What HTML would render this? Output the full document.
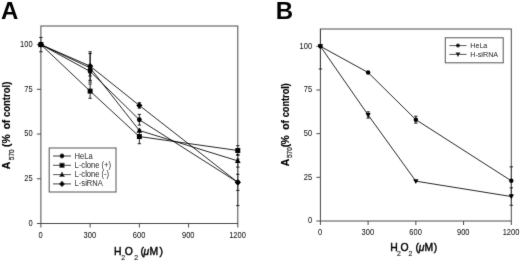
<!DOCTYPE html>
<html lang="en"><head><meta charset="utf-8"><title>Figure</title>
<style>html,body{margin:0;padding:0;background:#fff}svg{display:block}</style>
</head><body>
<svg width="520" height="261" viewBox="0 0 520 261">
<defs><filter id="soft" x="0" y="0" width="100%" height="100%" filterUnits="userSpaceOnUse"><feConvolveMatrix order="3" kernelMatrix="0.01 0.07 0.01 0.07 0.68 0.07 0.01 0.07 0.01" divisor="1" edgeMode="duplicate" preserveAlpha="false"/></filter></defs>
<rect width="520" height="261" fill="#fff"/>
<g filter="url(#soft)">
<g font-family='"Liberation Sans", Arial, sans-serif' font-weight="bold" font-size="24" fill="#000"><text x="0.9" y="19.1">A</text><text x="275.7" y="19.3">B</text></g>
<clipPath id="cpA"><rect x="36.9" y="26" width="204.9" height="197.5"/></clipPath>
<g fill="none" stroke="#4a4a4a" stroke-width="1">
<rect x="40.9" y="26" width="196.9" height="197.5"/>
<line x1="36.9" y1="223.5" x2="40.9" y2="223.5"/>
<line x1="36.9" y1="178.78" x2="40.9" y2="178.78"/>
<line x1="36.9" y1="134.05" x2="40.9" y2="134.05"/>
<line x1="36.9" y1="89.32" x2="40.9" y2="89.32"/>
<line x1="36.9" y1="44.6" x2="40.9" y2="44.6"/>
<line x1="40.9" y1="223.5" x2="40.9" y2="227.5"/>
<line x1="90.12" y1="223.5" x2="90.12" y2="227.5"/>
<line x1="139.35" y1="223.5" x2="139.35" y2="227.5"/>
<line x1="188.58" y1="223.5" x2="188.58" y2="227.5"/>
<line x1="237.8" y1="223.5" x2="237.8" y2="227.5"/>
</g>
<g font-family='"Liberation Sans", Arial, sans-serif' font-size="7.5" fill="#0a0a0a">
<text transform="translate(32.6 225.7) scale(1 1.12)" text-anchor="end">0</text>
<text transform="translate(32.6 180.97) scale(1 1.12)" text-anchor="end">25</text>
<text transform="translate(32.6 136.25) scale(1 1.12)" text-anchor="end">50</text>
<text transform="translate(32.6 91.52) scale(1 1.12)" text-anchor="end">75</text>
<text transform="translate(32.6 46.8) scale(1 1.12)" text-anchor="end">100</text>
<text transform="translate(40.6 238.3) scale(1 1.12)" text-anchor="middle">0</text>
<text transform="translate(89.83 238.3) scale(1 1.12)" text-anchor="middle">300</text>
<text transform="translate(139.05 238.3) scale(1 1.12)" text-anchor="middle">600</text>
<text transform="translate(188.28 238.3) scale(1 1.12)" text-anchor="middle">900</text>
<text transform="translate(237.5 238.3) scale(1 1.12)" text-anchor="middle">1200</text>
</g>
<g clip-path="url(#cpA)">
<g stroke="#000" stroke-width="0.85" fill="none">
<path stroke-width="0.85" stroke="#000" d="M39.2 37.44H42.6M39.2 51.76H42.6"/>
<path stroke-width="0.5" stroke="#222" d="M40.9 37.44V51.76"/>
<path stroke-width="0.85" stroke="#000" d="M90.12 66.96V75.91M88.42 66.96H91.83M88.42 75.91H91.83"/>
<path stroke-width="0.85" stroke="#000" d="M139.35 114.37V125.1M137.65 114.37H141.05M137.65 125.1H141.05"/>
<path stroke-width="0.85" stroke="#000" d="M236.1 159.1H239.5M236.1 205.61H239.5"/>
<path stroke-width="0.5" stroke="#222" d="M237.8 159.1V205.61"/>
<polyline points="40.9,44.6 90.12,71.43 139.35,119.74 237.8,182.35"/>
</g>
<g stroke="#000" stroke-width="0.85" fill="none">
<path stroke-width="0.85" stroke="#000" d="M90.12 83.96V98.27M88.42 83.96H91.83M88.42 98.27H91.83"/>
<path stroke-width="0.85" stroke="#000" d="M139.35 129.4V143.71M137.65 129.4H141.05M137.65 143.71H141.05"/>
<path stroke-width="0.85" stroke="#000" d="M236.1 145.68H239.5M236.1 155.34H239.5"/>
<path stroke-width="0.5" stroke="#222" d="M237.8 145.68V155.34"/>
<polyline points="40.9,44.6 90.12,91.11 139.35,136.55 237.8,150.51"/>
</g>
<g stroke="#000" stroke-width="0.85" fill="none">
<path stroke-width="0.85" stroke="#000" d="M90.12 53.54V82.17M88.42 53.54H91.83M88.42 82.17H91.83"/>
<path stroke-width="0.85" stroke="#000" d="M236.1 154.62H239.5M236.1 167.15H239.5"/>
<path stroke-width="0.5" stroke="#222" d="M237.8 154.62V167.15"/>
<polyline points="40.9,44.6 90.12,67.86 139.35,130.47 237.8,160.88"/>
</g>
<g stroke="#000" stroke-width="0.85" fill="none">
<path stroke-width="0.85" stroke="#000" d="M90.12 51.76V80.38M88.42 51.76H91.83M88.42 80.38H91.83"/>
<path stroke-width="0.85" stroke="#000" d="M139.35 102.74V108.11M137.65 102.74H141.05M137.65 108.11H141.05"/>
<path stroke-width="0.85" stroke="#000" d="M236.1 174.3H239.5M236.1 190.4H239.5"/>
<path stroke-width="0.5" stroke="#222" d="M237.8 174.3V190.4"/>
<polyline points="40.9,44.6 90.12,66.07 139.35,105.43 237.8,182.35"/>
</g>
<g fill="#000">
<circle cx="40.9" cy="44.6" r="2.39"/>
<circle cx="90.12" cy="71.43" r="2.39"/>
<circle cx="139.35" cy="119.74" r="2.39"/>
<circle cx="237.8" cy="182.35" r="2.39"/>
</g>
<g fill="#000">
<rect x="38.43" y="42.13" width="4.94" height="4.94"/>
<rect x="87.66" y="88.64" width="4.94" height="4.94"/>
<rect x="136.88" y="134.08" width="4.94" height="4.94"/>
<rect x="235.33" y="148.04" width="4.94" height="4.94"/>
</g>
<g fill="#000">
<polygon points="40.9,41.61 43.76,46.81 38.04,46.81"/>
<polygon points="90.12,64.87 92.98,70.07 87.27,70.07"/>
<polygon points="139.35,127.48 142.21,132.68 136.49,132.68"/>
<polygon points="237.8,157.89 240.66,163.09 234.94,163.09"/>
</g>
<g fill="#000">
<polygon points="40.9,41.48 44.02,44.6 40.9,47.72 37.78,44.6"/>
<polygon points="90.12,62.95 93.25,66.07 90.12,69.19 87,66.07"/>
<polygon points="139.35,102.31 142.47,105.43 139.35,108.55 136.23,105.43"/>
<polygon points="237.8,179.23 240.92,182.35 237.8,185.47 234.68,182.35"/>
</g>
</g>
<rect x="49.2" y="148" width="66.8" height="44" fill="#fff" stroke="#4a4a4a" stroke-width="1"/>
<line x1="53" y1="156" x2="71" y2="156" stroke="#000" stroke-width="0.8"/>
<g fill="#000"><circle cx="62" cy="156" r="2.39"/></g>
<text transform="translate(74.6 158.5) scale(1 1.1)" font-family='"Liberation Sans", Arial, sans-serif' font-size="7.6" fill="#000">HeLa</text>
<line x1="53" y1="165.3" x2="71" y2="165.3" stroke="#000" stroke-width="0.8"/>
<g fill="#000"><rect x="59.53" y="162.83" width="4.94" height="4.94"/></g>
<text transform="translate(74.6 167.8) scale(1 1.1)" font-family='"Liberation Sans", Arial, sans-serif' font-size="7.6" fill="#000">L-clone (+)</text>
<line x1="53" y1="174.6" x2="71" y2="174.6" stroke="#000" stroke-width="0.8"/>
<g fill="#000"><polygon points="62,171.61 64.86,176.81 59.14,176.81"/></g>
<text transform="translate(74.6 177.1) scale(1 1.1)" font-family='"Liberation Sans", Arial, sans-serif' font-size="7.6" fill="#000">L-clone (-)</text>
<line x1="53" y1="183.9" x2="71" y2="183.9" stroke="#000" stroke-width="0.8"/>
<g fill="#000"><polygon points="62,180.78 65.12,183.9 62,187.02 58.88,183.9"/></g>
<text transform="translate(74.6 186.4) scale(1 1.1)" font-family='"Liberation Sans", Arial, sans-serif' font-size="7.6" fill="#000">L-siRNA</text>
<clipPath id="cpB"><rect x="316.4" y="29" width="198.9" height="192"/></clipPath>
<g fill="none" stroke="#4a4a4a" stroke-width="1">
<rect x="320.4" y="29" width="190.9" height="192"/>
<line x1="316.4" y1="221" x2="320.4" y2="221"/>
<line x1="316.4" y1="177.32" x2="320.4" y2="177.32"/>
<line x1="316.4" y1="133.65" x2="320.4" y2="133.65"/>
<line x1="316.4" y1="89.98" x2="320.4" y2="89.98"/>
<line x1="316.4" y1="46.3" x2="320.4" y2="46.3"/>
<line x1="320.4" y1="221" x2="320.4" y2="225"/>
<line x1="368.12" y1="221" x2="368.12" y2="225"/>
<line x1="415.85" y1="221" x2="415.85" y2="225"/>
<line x1="463.57" y1="221" x2="463.57" y2="225"/>
<line x1="511.3" y1="221" x2="511.3" y2="225"/>
</g>
<g font-family='"Liberation Sans", Arial, sans-serif' font-size="7.5" fill="#0a0a0a">
<text transform="translate(312.1 223.3) scale(1 1.12)" text-anchor="end">0</text>
<text transform="translate(312.1 179.62) scale(1 1.12)" text-anchor="end">25</text>
<text transform="translate(312.1 135.95) scale(1 1.12)" text-anchor="end">50</text>
<text transform="translate(312.1 92.28) scale(1 1.12)" text-anchor="end">75</text>
<text transform="translate(312.1 48.6) scale(1 1.12)" text-anchor="end">100</text>
<text transform="translate(320.1 235) scale(1 1.12)" text-anchor="middle">0</text>
<text transform="translate(367.82 235) scale(1 1.12)" text-anchor="middle">300</text>
<text transform="translate(415.55 235) scale(1 1.12)" text-anchor="middle">600</text>
<text transform="translate(463.27 235) scale(1 1.12)" text-anchor="middle">900</text>
<text transform="translate(511 235) scale(1 1.12)" text-anchor="middle">1200</text>
</g>
<g clip-path="url(#cpB)">
<g stroke="#000" stroke-width="0.85" fill="none">
<path stroke-width="0.85" stroke="#000" d="M415.85 116.18V123.17M414.15 116.18H417.55M414.15 123.17H417.55"/>
<path stroke-width="0.85" stroke="#000" d="M509.6 166.84H513M509.6 194.8H513"/>
<path stroke-width="0.5" stroke="#222" d="M511.3 166.84V194.8"/>
<polyline points="320.4,46.3 368.12,72.5 415.85,119.67 511.3,180.82"/>
</g>
<g stroke="#000" stroke-width="0.85" fill="none">
<path stroke-width="0.85" stroke="#000" d="M318.7 23.59H322.1M318.7 69.01H322.1"/>
<path stroke-width="0.5" stroke="#222" d="M320.4 23.59V69.01"/>
<path stroke-width="0.85" stroke="#000" d="M368.12 111.81V118.1M366.43 111.81H369.82M366.43 118.1H369.82"/>
<path stroke-width="0.85" stroke="#000" d="M509.6 187.81H513M509.6 205.28H513"/>
<path stroke-width="0.5" stroke="#222" d="M511.3 187.81V205.28"/>
<polyline points="320.4,46.3 368.12,114.96 415.85,181.17 511.3,196.54"/>
</g>
<g fill="#000">
<circle cx="320.4" cy="46.3" r="2.21"/>
<circle cx="368.12" cy="72.5" r="2.21"/>
<circle cx="415.85" cy="119.67" r="2.21"/>
<circle cx="511.3" cy="180.82" r="2.21"/>
</g>
<g fill="#000">
<polygon points="320.4,49.06 323.04,44.26 317.76,44.26"/>
<polygon points="368.12,117.72 370.76,112.92 365.49,112.92"/>
<polygon points="415.85,183.93 418.49,179.13 413.21,179.13"/>
<polygon points="511.3,199.3 513.94,194.5 508.66,194.5"/>
</g>
</g>
<rect x="445.3" y="37.8" width="57.9" height="25" fill="#fff" stroke="#4a4a4a" stroke-width="1"/>
<line x1="449.4" y1="45.6" x2="466.5" y2="45.6" stroke="#000" stroke-width="0.8"/>
<g fill="#000"><circle cx="457.95" cy="45.6" r="2.02"/></g>
<text transform="translate(470.2 48.1) scale(1 1.1)" font-family='"Liberation Sans", Arial, sans-serif' font-size="7.2" fill="#000">HeLa</text>
<line x1="449.4" y1="54.4" x2="466.5" y2="54.4" stroke="#000" stroke-width="0.8"/>
<g fill="#000"><polygon points="457.95,56.93 460.37,52.53 455.53,52.53"/></g>
<text transform="translate(470.2 56.9) scale(1 1.1)" font-family='"Liberation Sans", Arial, sans-serif' font-size="7.2" fill="#000">H-siRNA</text>
<g font-family='"Liberation Sans", Arial, sans-serif' fill="#111">
<text x="114" y="254.8" font-size="10.4" fill="#000" stroke="#000" stroke-width="0.4">H</text><text x="121.3" y="259.5" font-size="6.9" fill="#222" stroke="#222" stroke-width="0.15">2</text><text x="124.8" y="254.8" font-size="10.4" fill="#000" stroke="#000" stroke-width="0.4">O</text><text x="134.2" y="259.5" font-size="6.9" fill="#222" stroke="#222" stroke-width="0.15">2</text><text x="140.6" y="254.8" font-size="10.4" fill="#000" stroke="#000" stroke-width="0.4">(</text><text x="143.6" y="254.8" font-size="10.4" font-style="italic" fill="#000" stroke="#000" stroke-width="0.4">μ</text><text x="149.4" y="254.8" font-size="10.4" fill="#000" stroke="#000" stroke-width="0.4">M</text><text x="159.6" y="254.8" font-size="10.4" fill="#000" stroke="#000" stroke-width="0.4">)</text>
<text x="390.2" y="251.4" font-size="10.4" fill="#000" stroke="#000" stroke-width="0.4">H</text><text x="397.1" y="255.7" font-size="6.9" fill="#222" stroke="#222" stroke-width="0.15">2</text><text x="400.4" y="251.4" font-size="10.4" fill="#000" stroke="#000" stroke-width="0.4">O</text><text x="408.5" y="255.7" font-size="6.9" fill="#222" stroke="#222" stroke-width="0.15">2</text><text x="415.6" y="251.4" font-size="10.4" fill="#000" stroke="#000" stroke-width="0.4">(</text><text x="418.8" y="251.4" font-size="10.4" font-style="italic" fill="#000" stroke="#000" stroke-width="0.4">μ</text><text x="424.6" y="251.4" font-size="10.4" fill="#000" stroke="#000" stroke-width="0.4">M</text><text x="433.8" y="251.4" font-size="10.4" fill="#000" stroke="#000" stroke-width="0.4">)</text>
<text transform="translate(10.2 169.2) rotate(-90)" font-size="10.3" font-weight="bold" fill="#000" stroke="#000" stroke-width="0.15">A</text><text transform="translate(13.7 160.2) rotate(-90)" font-size="6.5" font-weight="normal" fill="#111" stroke="#111" stroke-width="0.2">570</text><text transform="translate(10.2 147) rotate(-90)" font-size="10.3" font-weight="bold" fill="#000" stroke="#000" stroke-width="0.15">(</text><text transform="translate(10.2 143.4) rotate(-90)" font-size="10.3" font-weight="bold" fill="#000" stroke="#000" stroke-width="0.15">%</text><text transform="translate(10.2 129.3) rotate(-90)" font-size="10.3" font-weight="bold" fill="#000" stroke="#000" stroke-width="0.15">o</text><text transform="translate(10.2 123.2) rotate(-90)" font-size="10.3" font-weight="bold" fill="#000" stroke="#000" stroke-width="0.15">f</text><text transform="translate(10.2 117) rotate(-90)" font-size="10.3" font-weight="bold" fill="#000" stroke="#000" stroke-width="0.15" textLength="35.3" lengthAdjust="spacingAndGlyphs">control)</text>
<text transform="translate(288.5 166.2) rotate(-90)" font-size="10.3" font-weight="bold" fill="#000" stroke="#000" stroke-width="0.15">A</text><text transform="translate(292 158) rotate(-90)" font-size="6.5" font-weight="normal" fill="#111" stroke="#111" stroke-width="0.2">570</text><text transform="translate(288.5 147.3) rotate(-90)" font-size="10.3" font-weight="bold" fill="#000" stroke="#000" stroke-width="0.15">(</text><text transform="translate(288.5 144.5) rotate(-90)" font-size="10.3" font-weight="bold" fill="#000" stroke="#000" stroke-width="0.15">%</text><text transform="translate(288.5 129.7) rotate(-90)" font-size="10.3" font-weight="bold" fill="#000" stroke="#000" stroke-width="0.15">o</text><text transform="translate(288.5 123.5) rotate(-90)" font-size="10.3" font-weight="bold" fill="#000" stroke="#000" stroke-width="0.15">f</text><text transform="translate(288.5 117.3) rotate(-90)" font-size="10.3" font-weight="bold" fill="#000" stroke="#000" stroke-width="0.15" textLength="34.2" lengthAdjust="spacingAndGlyphs">control)</text>
</g>
</g>
</svg>
</body></html>
